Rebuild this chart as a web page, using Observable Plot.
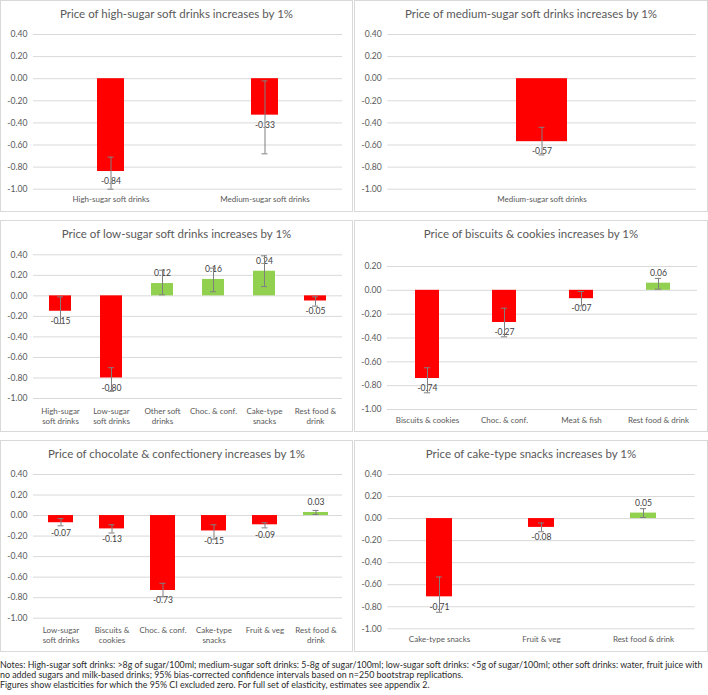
<!DOCTYPE html>
<html>
<head>
<meta charset="utf-8">
<script src="https://cdn.jsdelivr.net/npm/d3@7"></script>
<script src="https://cdn.jsdelivr.net/npm/@observablehq/plot@0.6"></script>
<style>
  html, body { margin: 0; padding: 0; background: #fff; }
  body { width: 708px; height: 695px; position: relative; overflow: hidden; font-family: Lato, "Open Sans", sans-serif; }
  .panel { position: absolute; }
  .panel .frame { position: absolute; inset: 0; border: 1px solid #d9d9d9; box-sizing: border-box; }
  .panel svg { position: absolute; left: 0; top: 0; }
  .panel .title { position: absolute; left: 0; right: 0; text-align: center; color: #595959; font-size: 11.5px; white-space: nowrap; }
  .notes { position: absolute; left: 0; top: 660px; width: 708px; font-size: 8.85px; line-height: 10px; color: #2a2a2a; white-space: nowrap; }
</style>
</head>
<body>
<div id="root"></div>
<script>
// ---------- DATA ----------
const titles = [
  "Price of high-sugar soft drinks increases by 1%",
  "Price of medium-sugar soft drinks increases by 1%",
  "Price of low-sugar soft drinks increases by 1%",
  "Price of biscuits & cookies increases by 1%",
  "Price of chocolate & confectionery increases by 1%",
  "Price of cake-type snacks increases by 1%"
];

const p1Categories = ["High-sugar soft drinks", "Medium-sugar soft drinks"];
const p1Values = [-0.84, -0.33];
const p1Lower  = [-1.00, -0.68];
const p1Upper  = [-0.71, -0.02];

const p2Categories = ["Medium-sugar soft drinks"];
const p2Values = [-0.57];
const p2Lower  = [-0.69];
const p2Upper  = [-0.44];

const p3Categories = ["High-sugar soft drinks", "Low-sugar soft drinks", "Other soft drinks", "Choc. & conf.", "Cake-type snacks", "Rest food & drink"];
const p3Values = [-0.15, -0.80, 0.12, 0.16, 0.24, -0.05];
const p3Lower  = [-0.27, -0.93, 0.01, 0.04, 0.09, -0.10];
const p3Upper  = [-0.01, -0.70, 0.25, 0.27, 0.39, -0.01];

const p4Categories = ["Biscuits & cookies", "Choc. & conf.", "Meat & fish", "Rest food & drink"];
const p4Values = [-0.74, -0.27, -0.07, 0.06];
const p4Lower  = [-0.86, -0.39, -0.13, 0.01];
const p4Upper  = [-0.65, -0.15, -0.01, 0.10];

const p5Categories = ["Low-sugar soft drinks", "Biscuits & cookies", "Choc. & conf.", "Cake-type snacks", "Fruit & veg", "Rest food & drink"];
const p5Values = [-0.07, -0.13, -0.73, -0.15, -0.09, 0.03];
const p5Lower  = [-0.10, -0.17, -0.79, -0.23, -0.12, 0.01];
const p5Upper  = [-0.03, -0.09, -0.66, -0.09, -0.07, 0.05];

const p6Categories = ["Cake-type snacks", "Fruit & veg", "Rest food & drink"];
const p6Values = [-0.71, -0.08, 0.05];
const p6Lower  = [-0.85, -0.12, 0.01];
const p6Upper  = [-0.53, -0.04, 0.09];

const yTicksFull = [-1.0, -0.8, -0.6, -0.4, -0.2, 0.0, 0.2, 0.4];
const yTicksShort = [-1.0, -0.8, -0.6, -0.4, -0.2, 0.0, 0.2];

// wrapped tick labels (as they wrap in the original narrow categories)
const wrappedLabels = {
  "High-sugar soft drinks": "High-sugar\nsoft drinks",
  "Low-sugar soft drinks": "Low-sugar\nsoft drinks",
  "Other soft drinks": "Other soft\ndrinks",
  "Cake-type snacks": "Cake-type\nsnacks",
  "Rest food & drink": "Rest food &\ndrink",
  "Biscuits & cookies": "Biscuits &\ncookies"
};

const notesLines = [
  "Notes: High-sugar soft drinks: >8g of sugar/100ml; medium-sugar soft drinks: 5-8g of sugar/100ml; low-sugar soft drinks: <5g of sugar/100ml; other soft drinks: water, fruit juice with",
  "no added sugars and milk-based drinks; 95% bias-corrected confidence intervals based on n=250 bootstrap replications.",
  "Figures show elasticities for which the 95% CI excluded zero. For full set of elasticity, estimates see appendix 2."
];

// ---------- LAYOUT ----------
const RED = "#ff0000", GREEN = "#92d050";
const panels = [
  {cats: p1Categories, vals: p1Values, lo: p1Lower, hi: p1Upper, left: 0,   top: 0,   w: 353, h: 212, mt: 34,   mb: 23.3, ml: 33,   mr: 11,   pad: 0.825, ticks: yTicksFull,  wrap: false},
  {cats: p2Categories, vals: p2Values, lo: p2Lower, hi: p2Upper, left: 354, top: 0,   w: 354, h: 212, mt: 34,   mb: 23.3, ml: 33.3, mr: 12.3, pad: 0.834, ticks: yTicksFull,  wrap: false},
  {cats: p3Categories, vals: p3Values, lo: p3Lower, hi: p3Upper, left: 0,   top: 220, w: 353, h: 212, mt: 34.3, mb: 34,   ml: 33,   mr: 11,   pad: 0.573, ticks: yTicksFull,  wrap: true},
  {cats: p4Categories, vals: p4Values, lo: p4Lower, hi: p4Upper, left: 354, top: 220, w: 354, h: 212, mt: 46,   mb: 23,   ml: 33,   mr: 11,   pad: 0.694, ticks: yTicksShort, wrap: false},
  {cats: p5Categories, vals: p5Values, lo: p5Lower, hi: p5Upper, left: 0,   top: 440, w: 353, h: 212, mt: 34,   mb: 34.3, ml: 33,   mr: 11,   pad: 0.515, ticks: yTicksFull,  wrap: true},
  {cats: p6Categories, vals: p6Values, lo: p6Lower, hi: p6Upper, left: 354, top: 440, w: 354, h: 212, mt: 34,   mb: 23.7, ml: 33.3, mr: 13.3, pad: 0.746, ticks: yTicksFull,  wrap: false}
];

const root = document.getElementById("root");
const fmt = d => d.toFixed(2);

panels.forEach((p, i) => {
  const data = p.cats.map((c, j) => ({cat: c, value: p.vals[j], lo: p.lo[j], hi: p.hi[j]}));
  const step = (p.w - p.ml - p.mr) / p.cats.length;
  const bw = step * (1 - p.pad);
  const capInset = Math.max(0, (bw - 6) / 2);

  const chart = Plot.plot({
    width: p.w,
    height: p.h,
    marginTop: p.mt,
    marginBottom: p.mb,
    marginLeft: p.ml,
    marginRight: p.mr,
    style: {fontFamily: "Lato, 'Open Sans', sans-serif", background: "transparent", overflow: "visible"},
    x: {domain: p.cats, paddingInner: p.pad, paddingOuter: p.pad / 2, axis: null},
    y: {domain: [p.ticks[0], p.ticks[p.ticks.length - 1]], axis: null},
    color: {type: "identity"},
    marks: [
      Plot.gridY(p.ticks, {stroke: "#d9d9d9", strokeOpacity: 1, strokeWidth: 1}),
      Plot.axisY(p.ticks, {tickSize: 0, tickPadding: 6, tickFormat: fmt, fontSize: 8.6, fill: "#595959", label: null}),
      Plot.axisX({tickSize: 0, tickPadding: p.wrap ? 8 : 6, fontSize: 8, fill: "#595959", label: null, lineHeight: 1.25,
        tickFormat: d => p.wrap ? (wrappedLabels[d] || d) : d}),
      Plot.barY(data, {x: "cat", y: "value", fill: d => d.value < 0 ? RED : GREEN}),
      Plot.text(data.filter(d => d.value < 0), {x: "cat", y: "value", text: d => fmt(d.value), dy: 10, fontSize: 8.6, fill: "#404040"}),
      Plot.text(data.filter(d => d.value >= 0), {x: "cat", y: "value", text: d => fmt(d.value), dy: -10, fontSize: 8.6, fill: "#404040"}),
      Plot.ruleX(data, {x: "cat", y1: "lo", y2: "hi", stroke: "#7f7f7f", strokeWidth: 1}),
      Plot.tickY(data, {x: "cat", y: "lo", stroke: "#7f7f7f", strokeWidth: 1, insetLeft: capInset, insetRight: capInset}),
      Plot.tickY(data, {x: "cat", y: "hi", stroke: "#7f7f7f", strokeWidth: 1, insetLeft: capInset, insetRight: capInset})
    ]
  });

  const div = document.createElement("div");
  div.className = "panel";
  div.style.left = p.left + "px";
  div.style.top = p.top + "px";
  div.style.width = p.w + "px";
  div.style.height = p.h + "px";
  const frame = document.createElement("div");
  frame.className = "frame";
  div.appendChild(frame);
  div.appendChild(chart);
  const t = document.createElement("div");
  t.className = "title";
  t.style.top = "7px";
  t.textContent = titles[i];
  div.appendChild(t);
  root.appendChild(div);
});

const notes = document.createElement("div");
notes.className = "notes";
notesLines.forEach(line => {
  const l = document.createElement("div");
  l.textContent = line;
  notes.appendChild(l);
});
root.appendChild(notes);
</script>
</body>
</html>
